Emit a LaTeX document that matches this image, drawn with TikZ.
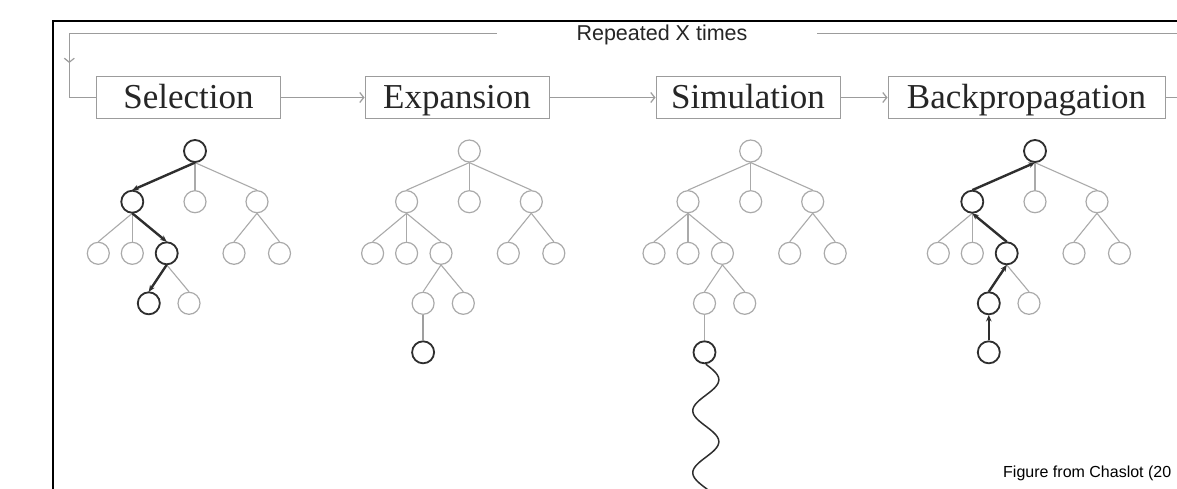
\documentclass[tikz,border=0pt]{standalone}
\usepackage{fontspec}
\setmainfont{Liberation Serif}
\newfontfamily\sansf{Liberation Sans}
\usetikzlibrary{arrows.meta}
\definecolor{lg}{HTML}{AAAAAA}
\definecolor{bx}{HTML}{9C9C9C}
\definecolor{dk}{HTML}{2E2E2E}
\definecolor{tx}{HTML}{262626}

\newcommand{\mctree}[2]{%
\begin{scope}[shift={(#2,0)}]
\node[nd] (#1r) at (0,151) {};
\node[nd] (#1a) at (-62.7,201.7) {};
\node[nd] (#1b) at (0,201.7) {};
\node[nd] (#1c) at (62,201.7) {};
\node[nd] (#1aa) at (-96.7,253.3) {};
\node[nd] (#1ab) at (-62.7,253.3) {};
\node[nd] (#1ac) at (-28.3,253.3) {};
\node[nd] (#1ca) at (39,253.3) {};
\node[nd] (#1cb) at (84.5,253.3) {};
\node[nd] (#1aca) at (-46.2,303.3) {};
\node[nd] (#1acb) at (-6,303.3) {};
\end{scope}
\draw[le] (#1r.south) -- (#1a.north);
\draw[le] (#1r.south) -- (#1b.north);
\draw[le] (#1r.south) -- (#1c.north);
\draw[le] (#1a.south) -- (#1aa.north);
\draw[le] (#1a.south) -- (#1ab.north);
\draw[le] (#1a.south) -- (#1ac.north);
\draw[le] (#1c.south) -- (#1ca.north);
\draw[le] (#1c.south) -- (#1cb.north);
\draw[le] (#1ac.south) -- (#1aca.north);
\draw[le] (#1ac.south) -- (#1acb.north);
}

\begin{document}
\begin{tikzpicture}[x=1pt,y=-1pt,
  nd/.style={circle,draw=lg,line width=1.2pt,minimum size=22pt,inner sep=0pt,fill=white},
  dkn/.style={circle,draw=dk,line width=1.8pt,minimum size=22pt,inner sep=0pt,fill=white},
  le/.style={draw=lg,line width=1.1pt},
  dke/.style={draw=dk,line width=2.4pt,-{Stealth[length=6.5pt,width=5.5pt]}},
  stagebox/.style={draw=bx,line width=1pt,minimum width=184pt,minimum height=42pt,inner sep=0pt,
    text=tx,font=\fontsize{35}{40}\selectfont,text height=29.6pt,text depth=8pt},
  conn/.style={draw=bx,line width=1.2pt},
  barb/.style={-{Straight Barb[length=4pt,width=10pt]}}
]
\useasboundingbox[fill=white] (0,0) rectangle (1177,488);
\begin{scope}
\clip (0,0) rectangle (1177,488);

% black frame
\draw[black,line width=2pt] (53.3,489) -- (53.3,20.7) -- (1178,20.7);

% stage boxes
\node[stagebox] (sel) at (188.5,97.5) {Selection};
\node[stagebox] (exp) at (457,97.5) {Expansion};
\node[stagebox] (sim) at (748,97.5) {Simulation};
\node[stagebox,minimum width=277pt] (bp) at (1026.5,97.5) {Backpropagation};

\draw[conn,barb] (sel.east) -- (exp.west);
\draw[conn,barb] (exp.east) -- (sim.west);
\draw[conn,barb] (sim.east) -- (bp.west);
\coordinate (bpout) at (1180,97.5);
\draw[conn] (bp.east) -- (bpout);

% repeat loop
\node[text=tx,font=\sansf\fontsize{21.5}{24}\selectfont] (rep) at (662,34.5) {Repeated X times};
\coordinate (l1) at (496.5,33.3);
\coordinate (l2) at (69.3,33.3);
\coordinate (l3) at (69.3,63);
\coordinate (l4) at (69.3,97.5);
\coordinate (r1) at (817,33.3);
\coordinate (r2) at (1180,33.3);
\draw[conn] (l1) -- (l2) -- (l3);
\draw[conn,barb] (l2) -- (l3);
\draw[conn] (l3) -- (l4) -- (sel.west);
\draw[conn] (r1) -- (r2);

% trees
\mctree{sel-}{195}
\mctree{exp-}{469.3}
\mctree{sim-}{750.7}
\mctree{bp-}{1035}

% selection
\node[dkn] (sel-r-d) at (sel-r) {};
\node[dkn] (sel-a-d) at (sel-a) {};
\node[dkn] (sel-ac-d) at (sel-ac) {};
\node[dkn] (sel-aca-d) at (sel-aca) {};
\draw[dke] (sel-r.south) -- (sel-a.north);
\draw[dke] (sel-a.south) -- (sel-ac.north);
\draw[dke] (sel-ac.south) -- (sel-aca.north);

% expansion
\node[dkn] (exp-l4) at ([yshift=-49pt]exp-aca.center) {};
\draw[draw=gray!75,line width=2.6pt] (exp-aca.south) -- (exp-l4.north);

% simulation
\node[dkn] (sim-l4) at ([yshift=-49pt]sim-aca.center) {};
\draw[le] (sim-aca.south) -- (sim-l4.north);
\begin{scope}[shift={(sim-l4.south)}]
\draw[draw=dk,line width=1.5pt] plot[domain=0:126,samples=120,variable=\t] ({1.3+13*sin(5.806*\t)},{\t});
\end{scope}

% backpropagation
\node[dkn] (bp-r-d) at (bp-r) {};
\node[dkn] (bp-a-d) at (bp-a) {};
\node[dkn] (bp-ac-d) at (bp-ac) {};
\node[dkn] (bp-aca-d) at (bp-aca) {};
\node[dkn] (bp-l4) at ([yshift=-49pt]bp-aca.center) {};
\draw[dke] (bp-l4.north) -- (bp-aca.south);
\draw[dke] (bp-aca.north) -- (bp-ac.south);
\draw[dke] (bp-ac.north) -- (bp-a.south);
\draw[dke] (bp-a.north) -- (bp-r.south);

% caption
\node[anchor=west,inner sep=0pt,text=black,font=\sansf\fontsize{16}{18}\selectfont] (cap) at (1003,473) {Figure from Chaslot (20};
\end{scope}
\end{tikzpicture}
\end{document}
